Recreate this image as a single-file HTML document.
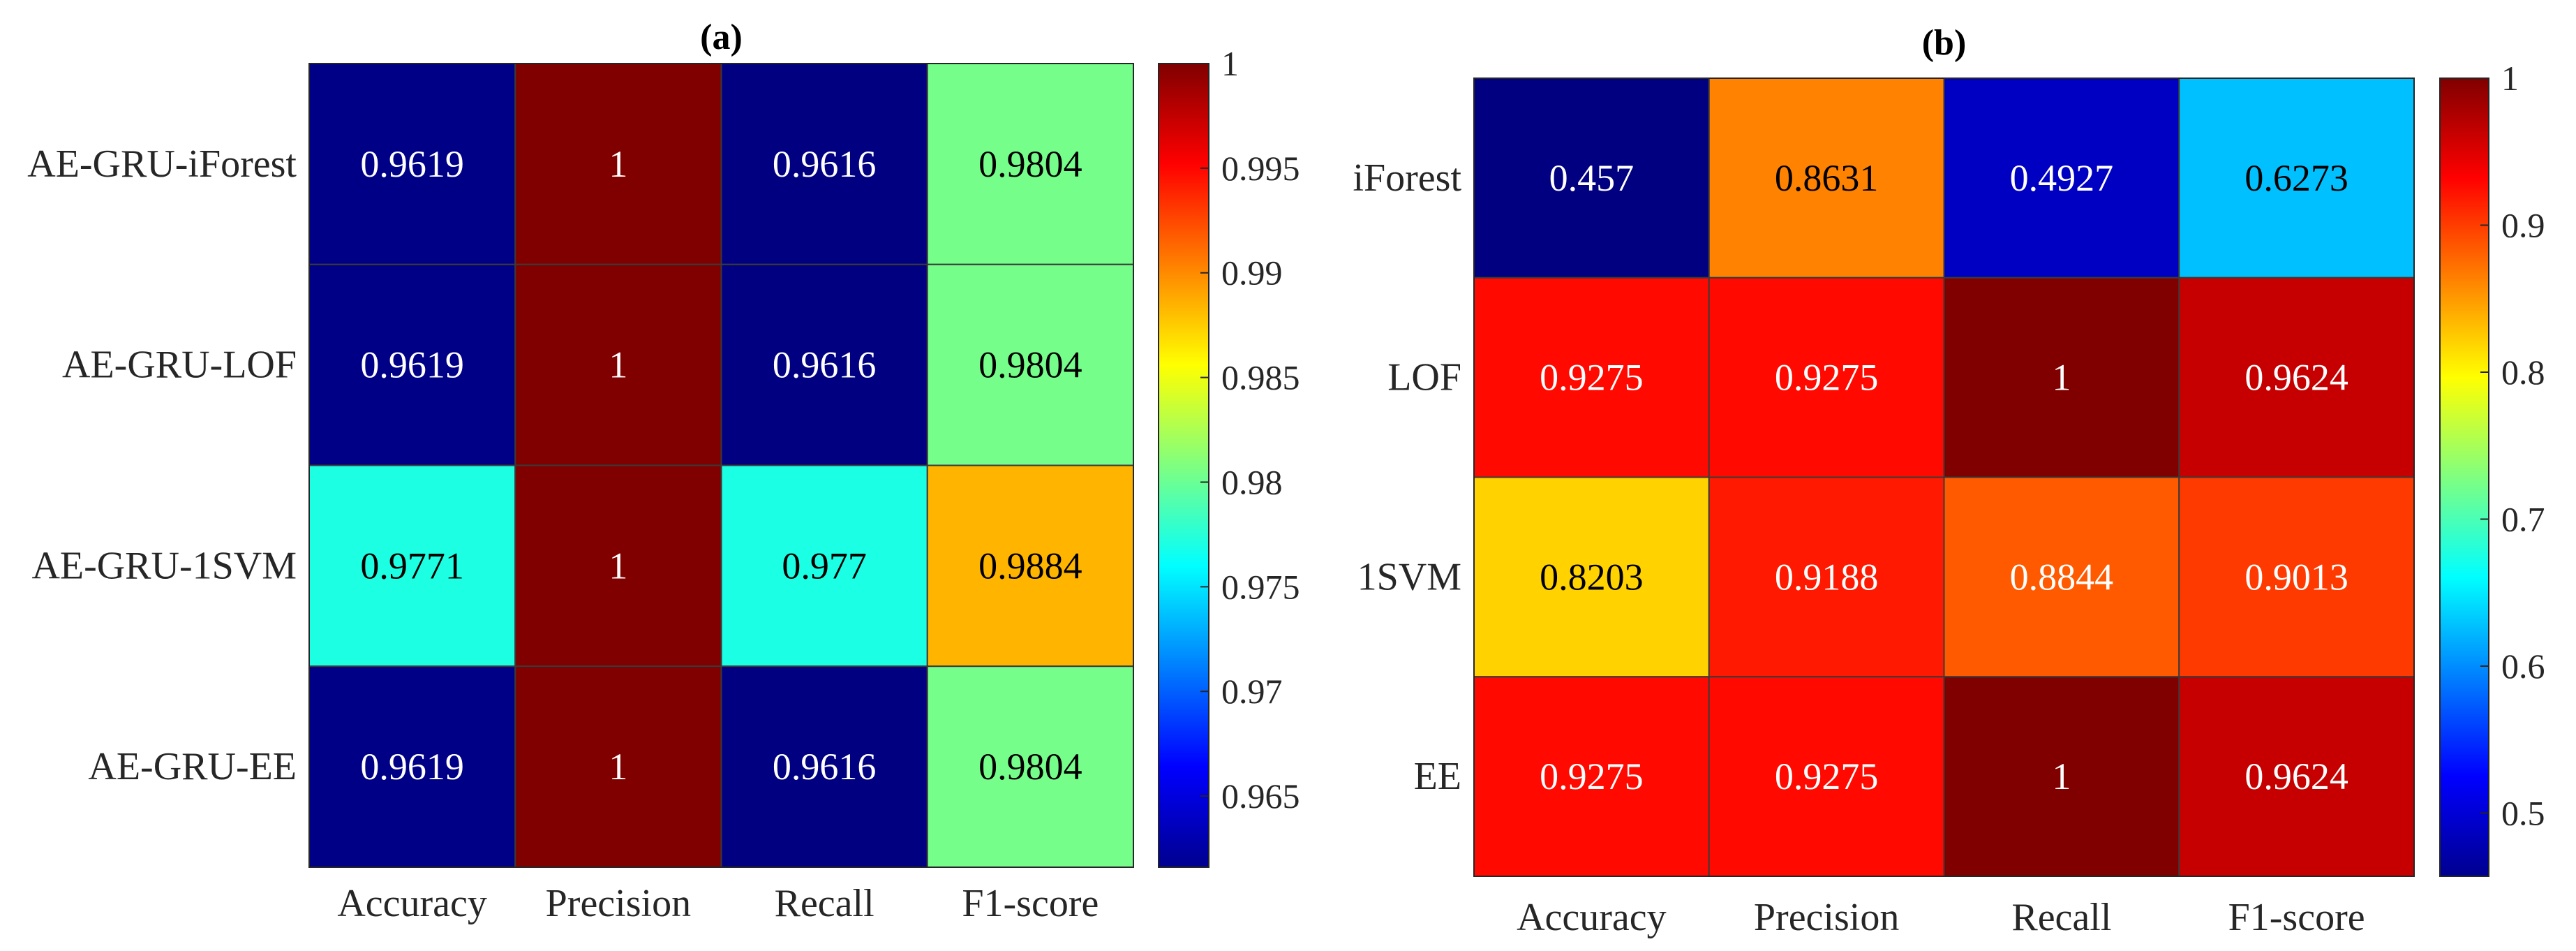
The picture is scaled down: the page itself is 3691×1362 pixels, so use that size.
<!DOCTYPE html>
<html><head><meta charset="utf-8"><style>
html,body{margin:0;padding:0;background:#fff;}
svg{display:block;}
svg text{font-family:"Liberation Serif","DejaVu Serif",serif;}
</style></head><body>
<svg id="fig" width="3691" height="1362" viewBox="0 0 3691 1362" xmlns="http://www.w3.org/2000/svg">
<defs>
<linearGradient id="jet" x1="0" y1="1" x2="0" y2="0">
<stop offset="0" stop-color="#00008f"/><stop offset="0.125" stop-color="#0000ff"/><stop offset="0.375" stop-color="#00ffff"/><stop offset="0.625" stop-color="#ffff00"/><stop offset="0.875" stop-color="#ff0000"/><stop offset="1" stop-color="#800000"/>
</linearGradient>
</defs>
</svg>
<script>
const colsA = ["Accuracy","Precision","Recall","F1-score"];
const rowsA = ["AE-GRU-iForest","AE-GRU-LOF","AE-GRU-1SVM","AE-GRU-EE"];
const valsA = [[0.9619,1,0.9616,0.9804],[0.9619,1,0.9616,0.9804],[0.9771,1,0.977,0.9884],[0.9619,1,0.9616,0.9804]];
const ticksA = [0.965,0.97,0.975,0.98,0.985,0.99,0.995,1];
const colsB = ["Accuracy","Precision","Recall","F1-score"];
const rowsB = ["iForest","LOF","1SVM","EE"];
const valsB = [[0.457,0.8631,0.4927,0.6273],[0.9275,0.9275,1,0.9624],[0.8203,0.9188,0.8844,0.9013],[0.9275,0.9275,1,0.9624]];
const ticksB = [0.5,0.6,0.7,0.8,0.9,1];

const NS="http://www.w3.org/2000/svg";
const svg=document.getElementById('fig');
const FF='"Liberation Serif", "DejaVu Serif", serif';
function mk(tag,attrs,parent){const e=document.createElementNS(NS,tag);for(const k in attrs)e.setAttribute(k,attrs[k]);if(tag==='text')e.setAttribute('font-family',FF);(parent||svg).appendChild(e);return e;}
function jet(t){t=Math.max(0,Math.min(1,t));const c=v=>Math.max(0,Math.min(1,v));
 return [c(1.5-Math.abs(4*t-3)),c(1.5-Math.abs(4*t-2)),c(1.5-Math.abs(4*t-1))];}
function draw(p){
 const g=mk('g',{});
 
 
 let vmin=Infinity,vmax=-Infinity;p.vals.forEach(r=>r.forEach(v=>{vmin=Math.min(vmin,v);vmax=Math.max(vmax,v);}));
 const cw=(p.x1-p.x0)/p.cols.length,rh=(p.y1-p.y0)/p.rows.length;
 p.rows.forEach((rn,i)=>{p.cols.forEach((cn,j)=>{
  const v=p.vals[i][j];const t=(v-vmin)/(vmax-vmin);const c=jet(t);
  const r=mk('rect',{x:p.x0+j*cw,y:p.y0+i*rh,width:cw,height:rh,fill:`rgb(${c.map(x=>Math.round(x*255)).join(',')})`,stroke:'#3a3a3a','stroke-width':2},g);
  
  
  const lum=0.299*c[0]+0.587*c[1]+0.114*c[2];
  const tx=mk('text',{x:p.x0+(j+0.5)*cw,y:p.y0+(i+0.5)*rh+18,'text-anchor':'middle','font-size':54,fill:lum>0.53?'#000':'#fff'},g);
  tx.textContent=String(v);
  
  
 });
  const yl=mk('text',{x:p.x0-18,y:p.y0+(i+0.5)*rh+18,'text-anchor':'end','font-size':56,fill:'#262626'},g);
  yl.textContent=rn;
  
  
 });
 p.cols.forEach((cn,j)=>{
  const xl=mk('text',{x:p.x0+(j+0.5)*cw,y:p.xly,'text-anchor':'middle','font-size':56,fill:'#262626'},g);
  xl.textContent=cn;
  
  
 });
 const fr=mk('rect',{x:p.x0,y:p.y0,width:p.x1-p.x0,height:p.y1-p.y0,fill:'none',stroke:'#262626','stroke-width':2},g);
 
 
 const ti=mk('text',{x:(p.x0+p.x1)/2,y:p.ty,'text-anchor':'middle','font-size':52,'font-weight':'bold',fill:'#000'},g);
 ti.textContent=p.title;
 
 
 const cb=mk('rect',{x:p.cb0,y:p.y0,width:p.cb1-p.cb0,height:p.y1-p.y0,fill:'url(#jet)',stroke:'#262626','stroke-width':2},g);
 
 
 const sy=v=>p.y1-(v-vmin)/(vmax-vmin)*(p.y1-p.y0);
 p.ticks.forEach(tv=>{
  const y=sy(tv);
  const tk=mk('line',{x1:p.cb1-12,x2:p.cb1,y1:y,y2:y,stroke:'#262626','stroke-width':2},g);
  
  
  const tl=mk('text',{x:p.cb1+18,y:y+17,'font-size':50,fill:'#262626'},g);
  tl.textContent=String(tv);
  
  
 });
}
draw({name:'heatmap-a',cols:colsA,rows:rowsA,vals:valsA,ticks:ticksA,x0:443,x1:1624,y0:91,y1:1242,cb0:1660,cb1:1732,xly:1312,ty:70,title:'(a)'});
draw({name:'heatmap-b',cols:colsB,rows:rowsB,vals:valsB,ticks:ticksB,x0:2112,x1:3459,y0:112,y1:1255,cb0:3496,cb1:3566,xly:1332,ty:78,title:'(b)'});
</script>
</body></html>
